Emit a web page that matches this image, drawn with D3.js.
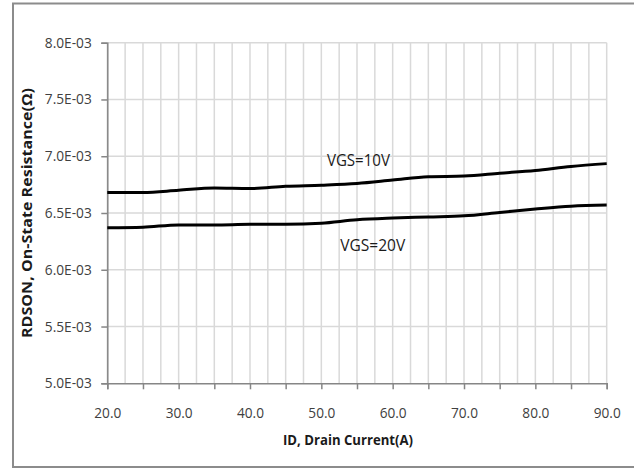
<!DOCTYPE html>
<html><head><meta charset="utf-8">
<script src="https://cdn.jsdelivr.net/npm/d3@7"></script>
<style>body{margin:0;background:#fff}svg{display:block}</style>
</head><body>
<script>
const currentA = [20,25,30,35,40,45,50,55,60,65,70,75,80,85,90];
const vgs10 = [6.68,6.68,6.70,6.72,6.715,6.735,6.745,6.76,6.79,6.82,6.825,6.85,6.875,6.91,6.935].map(v=>v*1e-3);
const vgs20 = [6.37,6.375,6.395,6.395,6.40,6.40,6.41,6.44,6.455,6.465,6.475,6.505,6.535,6.56,6.57].map(v=>v*1e-3);
const xTickLabels = ["20.0","30.0","40.0","50.0","60.0","70.0","80.0","90.0"];
const yTickLabels = ["5.0E-03","5.5E-03","6.0E-03","6.5E-03","7.0E-03","7.5E-03","8.0E-03"];
const seriesNames = ["VGS=10V","VGS=20V"];

const W=634,H=469;
const svg=d3.select("body").append("svg").attr("width",W).attr("height",H);
const font="'Open Sans', sans-serif";
// outer border
svg.append("rect").attr("x",13).attr("y",3.5).attr("width",640).attr("height",463.5)
  .attr("fill","none").attr("stroke","#8c8c8c").attr("stroke-width",2);

const L=107.3,R=606.7,T=42.7,B=383.3;
const x=d3.scaleLinear().domain([20,90]).range([L,R]);
const y=d3.scaleLinear().domain([5.0e-3,8.0e-3]).range([B,T]);

// grid
const g=svg.append("g");
g.selectAll(".vg").data(d3.range(20,90.01,2.5)).join("line")
  .attr("x1",d=>x(d)).attr("x2",d=>x(d)).attr("y1",T).attr("y2",B)
  .attr("stroke","#d9d9d9").attr("stroke-width",1.5);
g.selectAll(".hg").data(d3.range(5.5,8.01,0.5).map(v=>v*1e-3)).join("line")
  .attr("x1",L).attr("x2",R).attr("y1",d=>y(d)).attr("y2",d=>y(d))
  .attr("stroke","#d9d9d9").attr("stroke-width",1.5);

// axes
const xAxis=d3.axisBottom(x).tickValues(d3.range(20,90.01,5)).tickSize(6)
  .tickFormat(d=> (d%10===0)? xTickLabels[(d-20)/10] : "");
const ax=svg.append("g").attr("transform",`translate(0,${B})`).call(xAxis);
ax.select(".domain").attr("stroke","#868686").attr("stroke-width",1.5);
ax.selectAll(".tick line").attr("stroke","#868686").attr("stroke-width",1.5);
ax.selectAll(".tick text").attr("font-family",font).attr("font-size",14).attr("fill","#404040")
  .attr("y",0).attr("dy",0).attr("transform","translate(0,35)")
  .attr("textLength",27).attr("lengthAdjust","spacingAndGlyphs");

const yAxis=d3.axisLeft(y).tickValues(d3.range(5.0,8.01,0.5).map(v=>v*1e-3)).tickSize(6)
  .tickFormat((d,i)=>yTickLabels[i]);
const ay=svg.append("g").attr("transform",`translate(${L},0)`).call(yAxis);
ay.select(".domain").attr("stroke","#868686").attr("stroke-width",1.5);
ay.selectAll(".tick line").attr("stroke","#868686").attr("stroke-width",1.5);
ay.selectAll(".tick text").attr("font-family",font).attr("font-size",14).attr("fill","#404040").attr("x",-15.5)
  .attr("textLength",47).attr("lengthAdjust","spacingAndGlyphs");

// lines
const line=d3.line().x((d,i)=>x(currentA[i])).y(d=>y(d)).curve(d3.curveMonotoneX);
[vgs10,vgs20].forEach(s=>{
  svg.append("path").datum(s).attr("d",line).attr("fill","none")
    .attr("stroke","#000").attr("stroke-width",3);
});

// series labels
svg.append("text").attr("x",x(55.2)).attr("y",y(7.0e-3)+10).text(seriesNames[0])
  .attr("font-family",font).attr("font-size",16).attr("fill","#1a1a1a").attr("text-anchor","middle")
  .attr("textLength",63).attr("lengthAdjust","spacingAndGlyphs");
svg.append("text").attr("x",x(57.2)).attr("y",y(6.0e-3)-18.5).text(seriesNames[1])
  .attr("font-family",font).attr("font-size",16).attr("fill","#1a1a1a").attr("text-anchor","middle")
  .attr("textLength",65).attr("lengthAdjust","spacingAndGlyphs");

// axis titles
svg.append("text").attr("x",348).attr("y",445).text("ID, Drain Current(A)")
  .attr("font-family",font).attr("font-size",14).attr("font-weight","bold").attr("fill","#1a1a1a").attr("text-anchor","middle")
  .attr("textLength",130).attr("lengthAdjust","spacingAndGlyphs");
svg.append("text").attr("transform","translate(32,213) rotate(-90)").text("RDSON, On-State Resistance(Ω)")
  .attr("font-family",font).attr("font-size",14).attr("font-weight","bold").attr("fill","#1a1a1a").attr("text-anchor","middle")
  .attr("textLength",250).attr("lengthAdjust","spacingAndGlyphs");
</script>
</body></html>
